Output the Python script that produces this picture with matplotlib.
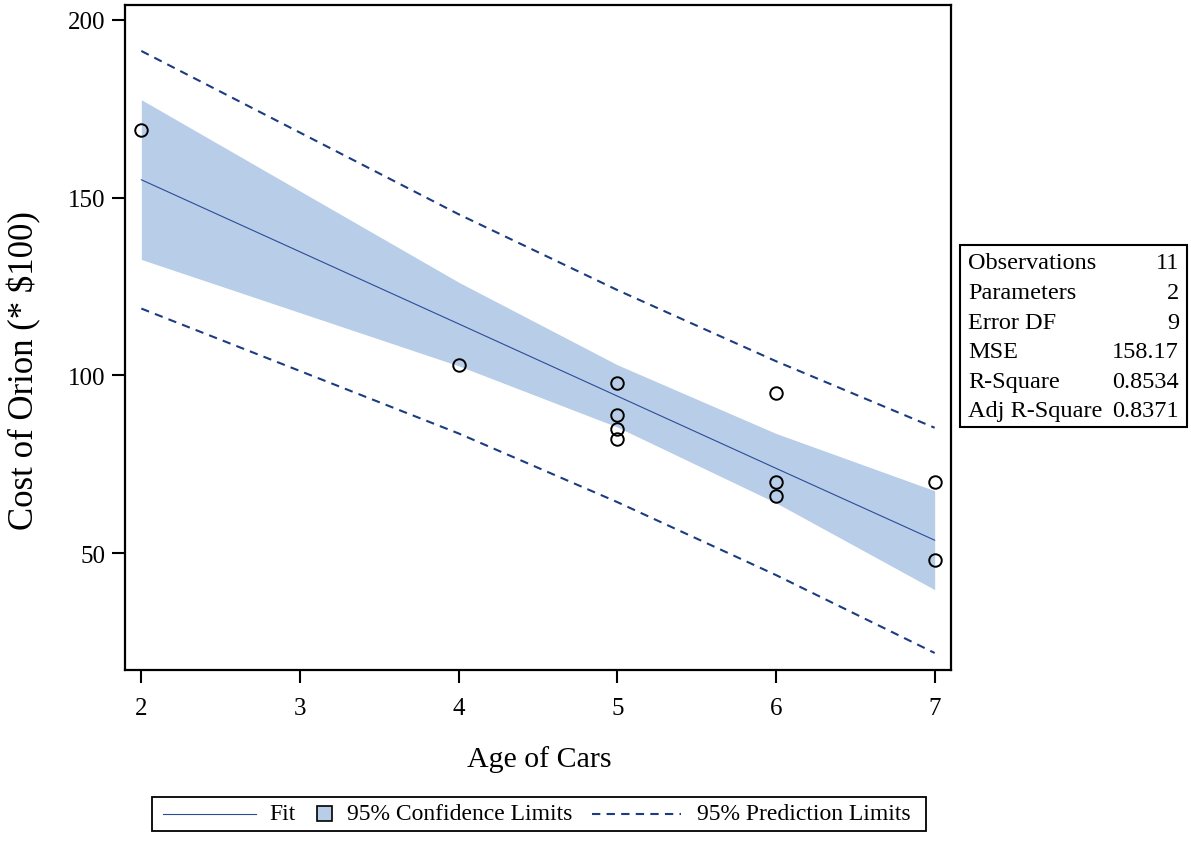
import matplotlib
matplotlib.use("Agg")
import matplotlib.pyplot as plt
from matplotlib.transforms import Affine2D
from matplotlib.patches import Rectangle
from matplotlib.lines import Line2D

plt.rcParams['font.family'] = ['Liberation Serif', 'DejaVu Serif']

# Observed data: age of car vs. cost (in $100)
age = [2, 4, 5, 5, 5, 5, 6, 6, 6, 7, 7]
cost = [169, 103, 98, 89, 85, 82, 95, 70, 66, 70, 48]

# Fit line and 95% limits at each distinct age
band_x = [2, 4, 5, 6, 7]
fit_y = [155.0, 114.5, 94.2, 73.9, 53.7]
ci_lower = [132.6, 102.7, 85.5, 64.2, 39.8]
ci_upper = [177.5, 126.2, 103.0, 83.7, 67.6]
pi_lower = [118.8, 83.7, 64.4, 43.9, 22.0]
pi_upper = [191.2, 145.3, 124.0, 104.0, 85.3]

# Fit statistics table
stat_names = ["Observations", "Parameters", "Error DF", "MSE", "R-Square", "Adj R-Square"]
stat_values = ["11", "2", "9", "158.17", "0.8534", "0.8371"]

x_ticks = [2, 3, 4, 5, 6, 7]
y_ticks = [50, 100, 150, 200]

W, H = 1191, 845
fig = plt.figure(figsize=(W / 100, H / 100), dpi=100)
px = Affine2D().scale(1 / W, -1 / H).translate(0, 1) + fig.transFigure

ax_l, ax_r, ax_t, ax_b = 125.3, 950.7, 5.7, 670.7
ax = fig.add_axes([ax_l / W, 1 - ax_b / H, (ax_r - ax_l) / W, (ax_b - ax_t) / H])

band_fill = '#B8CDE7'
fit_color = '#2B4C9A'
pred_color = '#1B3C80'

ax.fill_between(band_x, ci_lower, ci_upper, color=band_fill, lw=0, zorder=1)
ax.plot(band_x, fit_y, color=fit_color, lw=0.8, zorder=2)
ax.plot(band_x, pi_lower, color=pred_color, lw=1.5, dashes=(4, 3), zorder=2)
ax.plot(band_x, pi_upper, color=pred_color, lw=1.5, dashes=(4, 3), zorder=2)
ax.plot(age, cost, ls='none', marker='o', ms=9, mfc='none', mec='black', mew=1.4, zorder=3)

ax.set_xlim(1.899, 7.101)
ax.set_ylim(17.3, 204.2)
ax.set_xticks(x_ticks)
ax.set_yticks(y_ticks)
ax.tick_params(direction='out', length=9.5, width=1.5, labelsize=18, color='black')
ax.tick_params(axis='x', pad=10.5)
ax.tick_params(axis='y', pad=5)
for s in ax.spines.values():
    s.set_linewidth(1.6)

# Axis titles
fig.text(539, 760, "Age of Cars", transform=px, ha='center', va='center', fontsize=21.5)
fig.text(24, 371, "Cost of Orion (* $100)", transform=px, ha='center', va='center',
         rotation=90, fontsize=25)

# Statistics box
fig.add_artist(Rectangle((960, 246), 227, 182, transform=px, fill=False,
                         ec='black', lw=1.5))
row_y = [264, 294, 323.5, 353, 382.5, 412]
for name, val, y in zip(stat_names, stat_values, row_y):
    fig.text(968, y, name, transform=px, ha='left', va='center', fontsize=17.5)
    fig.text(1179, y, val, transform=px, ha='right', va='center', fontsize=17.5)

# Legend
fig.add_artist(Rectangle((152, 797.5), 774, 34, transform=px, fill=False,
                         ec='black', lw=1.3))
ly = 815
fig.add_artist(Line2D([163, 256], [ly, ly], transform=px, color=fit_color, lw=0.8))
fig.text(269, ly, "Fit", transform=px, ha='left', va='center', fontsize=17)
fig.add_artist(Rectangle((317, ly - 8), 15, 15, transform=px, fc=band_fill,
                         ec='black', lw=1.2))
fig.text(347, ly, "95% Confidence Limits", transform=px, ha='left', va='center', fontsize=17)
fig.add_artist(Line2D([592, 681], [ly, ly], transform=px, color=pred_color, lw=1.5,
                      dashes=(4, 3)))
fig.text(697, ly, "95% Prediction Limits", transform=px, ha='left', va='center', fontsize=17)

fig.savefig("out.png", dpi=100)
